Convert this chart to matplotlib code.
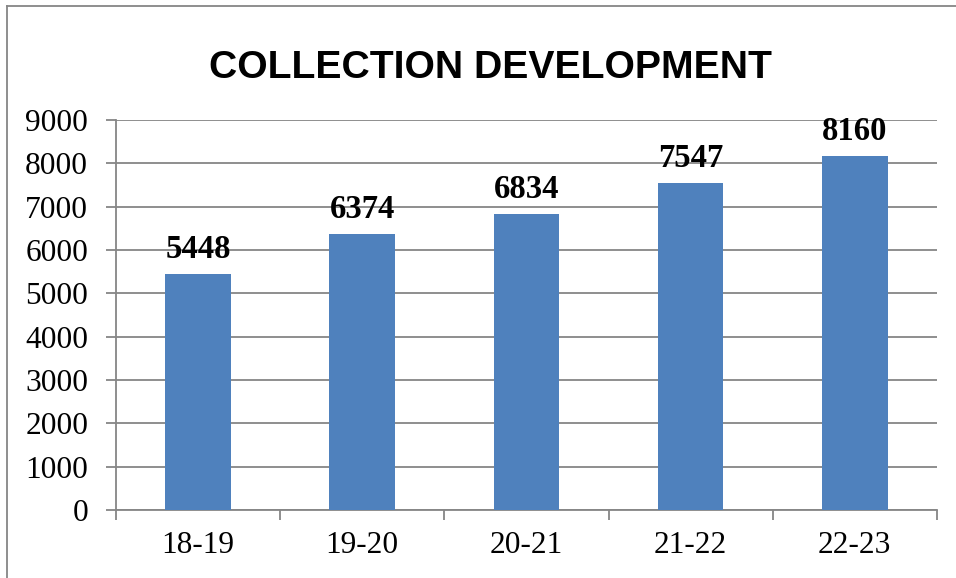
import matplotlib
matplotlib.use("Agg")
import matplotlib.pyplot as plt
from matplotlib.lines import Line2D
import numpy as np

# data
years = ["18-19", "19-20", "20-21", "21-22", "22-23"]
books = [5448, 6374, 6834, 7547, 8160]
y_ticks = [0, 1000, 2000, 3000, 4000, 5000, 6000, 7000, 8000, 9000]

bar_color = "#4F81BD"
grid_color = "#868686"
serif = ["Liberation Serif", "DejaVu Serif"]

fig = plt.figure(figsize=(9.56, 5.78), dpi=100)
ax = fig.add_axes([0.1213, 0.1176, 0.980 - 0.1213, 0.7924 - 0.1176])

x = np.arange(len(years))
ax.bar(x, books, width=0.40, color=bar_color, zorder=3)

for xi, v in zip(x, books):
    ax.annotate(str(v), (xi, v), xytext=(0, 11.5), textcoords="offset points",
                ha="center", va="baseline", fontsize=23.5, fontweight="bold",
                family=serif, zorder=4)

ax.set_xlim(-0.5, len(years) - 0.5)
ax.set_ylim(0, 9000)
ax.set_yticks(y_ticks)
ax.set_yticklabels([str(t) for t in y_ticks], family=serif, fontsize=22.6)
ax.yaxis.grid(True, color=grid_color, linewidth=1.3, zorder=0)

# category labels at centres, tick marks on the boundaries
ax.set_xticks(x)
ax.set_xticklabels(years, family=serif, fontsize=22.6)
ax.set_xticks(np.arange(-0.5, len(years)), minor=True)
ax.tick_params(axis="x", which="major", length=0, pad=15)
ax.tick_params(axis="x", which="minor", length=7, width=1.3, color=grid_color, direction="out")
ax.tick_params(axis="y", length=7, width=1.3, color=grid_color, direction="out", pad=13)

for side in ["top", "right"]:
    ax.spines[side].set_visible(False)
for side in ["left", "bottom"]:
    ax.spines[side].set_color(grid_color)
    ax.spines[side].set_linewidth(1.3)

fig.text(0.513, 1 - 78 / 578, "COLLECTION DEVELOPMENT", ha="center", va="baseline",
         fontsize=28.2, fontweight="bold", family="Liberation Sans")

# outer chart frame (only top and left show in the crop)
fig.add_artist(Line2D([7 / 956, 7 / 956], [0, 1 - 6 / 578], transform=fig.transFigure,
                      color=grid_color, linewidth=1.3))
fig.add_artist(Line2D([7 / 956, 1], [1 - 6 / 578, 1 - 6 / 578], transform=fig.transFigure,
                      color=grid_color, linewidth=1.3))

fig.savefig("out.png", dpi=100)
